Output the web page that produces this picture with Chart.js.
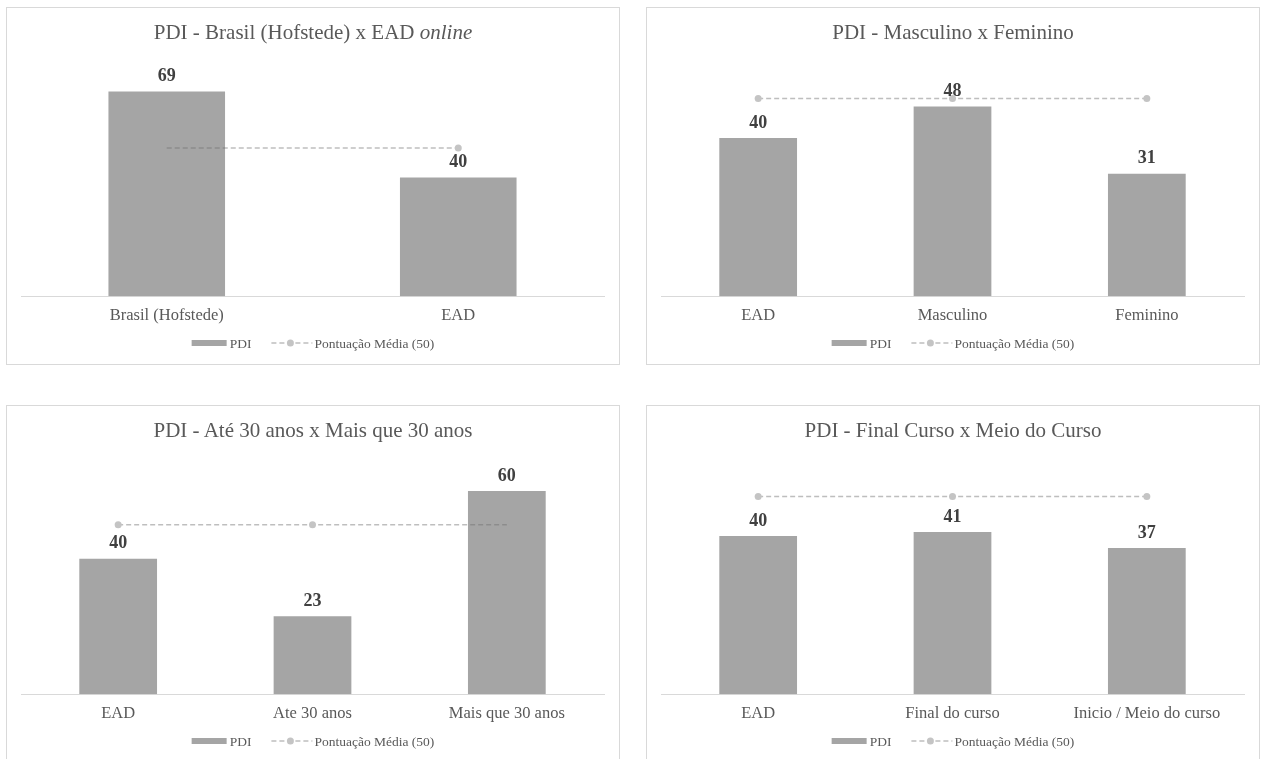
<!DOCTYPE html>
<html lang="pt-BR">
<head>
<meta charset="utf-8">
<title>PDI - comparativos</title>
<script src="https://cdn.jsdelivr.net/npm/chart.js@4.4.1/dist/chart.umd.min.js"></script>
<style>
  html, body { margin: 0; padding: 0; background: #fff; }
  body { width: 1261px; height: 759px; overflow: hidden; position: relative; font-family: "Liberation Serif", serif; }
  .panel { position: absolute; width: 614px; height: 358px; border: 1px solid #d9d9d9; box-sizing: border-box; background: #fff; }
  .panel canvas { position: absolute; left: 0; top: 0; }
  .panel h2 { position: absolute; left: 0; right: 0; top: 12px; margin: 0; font-weight: normal; font-size: 21px; line-height: 24px; text-align: center; color: #595959; z-index: 2; }
</style>
</head>
<body>

<div class="panel" style="left:6px;top:7px;">
  <canvas id="chart1" width="612" height="356"></canvas>
  <h2>PDI - Brasil (Hofstede) x EAD <i>online</i></h2>
</div>
<div class="panel" style="left:646px;top:7px;">
  <canvas id="chart2" width="612" height="356"></canvas>
  <h2>PDI - Masculino x Feminino</h2>
</div>
<div class="panel" style="left:6px;top:405px;">
  <canvas id="chart3" width="612" height="356"></canvas>
  <h2>PDI - Até 30 anos x Mais que 30 anos</h2>
</div>
<div class="panel" style="left:646px;top:405px;">
  <canvas id="chart4" width="612" height="356"></canvas>
  <h2>PDI - Final Curso x Meio do Curso</h2>
</div>

<script>
// ============================================
// Data
// ============================================
const seriesNames = ['PDI', 'Pontuação Média (50)'];

const labelsBrasil = ['Brasil (Hofstede)', 'EAD'];
const pdiBrasil = [69, 40];
const mediaBrasil = [50, 50];

const labelsGenero = ['EAD', 'Masculino', 'Feminino'];
const pdiGenero = [40, 48, 31];
const mediaGenero = [50, 50, 50];

const labelsIdade = ['EAD', 'Ate 30 anos', 'Mais que 30 anos'];
const pdiIdade = [40, 23, 60];
const mediaIdade = [50, 50, 50];

const labelsCurso = ['EAD', 'Final do curso', 'Inicio / Meio do curso'];
const pdiCurso = [40, 41, 37];
const mediaCurso = [50, 50, 50];

// ============================================
// Styles
// ============================================
const FONT = '"Liberation Serif", "Times New Roman", serif';
const BAR_COLOR = '#a5a5a5';
const LINE_COLOR = 'rgba(110,110,110,0.45)';
const DOT_COLOR = '#c4c4c4';
const TEXT_COLOR = '#595959';

// value labels above the bars
const barLabelsPlugin = {
    id: 'barLabels',
    afterDatasetsDraw(chart) {
        const ctx = chart.ctx;
        const meta = chart.getDatasetMeta(0);
        const values = chart.data.datasets[0].data;
        ctx.save();
        ctx.font = 'bold 18px ' + FONT;
        ctx.fillStyle = '#404040';
        ctx.textAlign = 'center';
        ctx.textBaseline = 'middle';
        meta.data.forEach((bar, i) => {
            ctx.fillText(values[i], bar.x, bar.y - 15);
        });
        ctx.restore();
    }
};

// excel-like legend: grey block + dashed line with marker
const legendPlugin = {
    id: 'excelLegend',
    afterDraw(chart) {
        const ctx = chart.ctx;
        const y = 335;
        ctx.save();
        ctx.font = '13.5px ' + FONT;
        const names = chart.data.datasets.map(d => d.label);
        const w0 = ctx.measureText(names[0]).width;
        const w1 = ctx.measureText(names[1]).width;
        const total = 35 + 3 + w0 + 20 + 41 + 2 + w1;
        let x = chart.width / 2 - total / 2;

        ctx.fillStyle = BAR_COLOR;
        ctx.fillRect(x, y - 3, 35, 6);
        x += 38;
        ctx.fillStyle = TEXT_COLOR;
        ctx.textBaseline = 'middle';
        ctx.fillText(names[0], x, y + 1);
        x += w0 + 20;

        ctx.strokeStyle = LINE_COLOR;
        ctx.lineWidth = 1.5;
        ctx.setLineDash([5, 3]);
        ctx.beginPath();
        ctx.moveTo(x, y);
        ctx.lineTo(x + 41, y);
        ctx.stroke();
        ctx.setLineDash([]);
        ctx.fillStyle = DOT_COLOR;
        ctx.beginPath();
        ctx.arc(x + 19, y, 3.5, 0, Math.PI * 2);
        ctx.fill();
        x += 43;
        ctx.fillStyle = TEXT_COLOR;
        ctx.fillText(names[1], x, y + 1);
        ctx.restore();
    }
};

function makeChart(id, labels, pdi, media, yMax, radii) {
    const ctx = document.getElementById(id).getContext('2d');
    return new Chart(ctx, {
        type: 'bar',
        data: {
            labels: labels,
            datasets: [
                {
                    type: 'bar',
                    label: seriesNames[0],
                    data: pdi,
                    backgroundColor: BAR_COLOR,
                    barPercentage: 0.4,
                    categoryPercentage: 1,
                    order: 1
                },
                {
                    type: 'line',
                    label: seriesNames[1],
                    data: media,
                    borderColor: LINE_COLOR,
                    borderWidth: 1.5,
                    borderDash: [5, 3],
                    pointRadius: radii,
                    pointBackgroundColor: DOT_COLOR,
                    pointBorderWidth: 0,
                    fill: false,
                    order: 0
                }
            ]
        },
        options: {
            responsive: false,
            animation: false,
            layout: { padding: { top: 51, left: 14, right: 15, bottom: 28 } },
            plugins: {
                legend: { display: false },
                tooltip: { enabled: false }
            },
            scales: {
                x: {
                    grid: { display: false, drawTicks: false },
                    border: { display: true, color: '#d9d9d9', width: 1 },
                    ticks: { color: TEXT_COLOR, font: { family: FONT, size: 16.5 }, padding: 10, maxRotation: 0 }
                },
                y: { display: false, min: 0, max: yMax }
            }
        },
        plugins: [barLabelsPlugin, legendPlugin]
    });
}

makeChart('chart1', labelsBrasil, pdiBrasil, mediaBrasil, 80, [0, 3.5]);
makeChart('chart2', labelsGenero, pdiGenero, mediaGenero, 60, [3.5, 3.5, 3.5]);
makeChart('chart3', labelsIdade, pdiIdade, mediaIdade, 70, [3.5, 3.5, 0]);
makeChart('chart4', labelsCurso, pdiCurso, mediaCurso, 60, [3.5, 3.5, 3.5]);
</script>
</body>
</html>
